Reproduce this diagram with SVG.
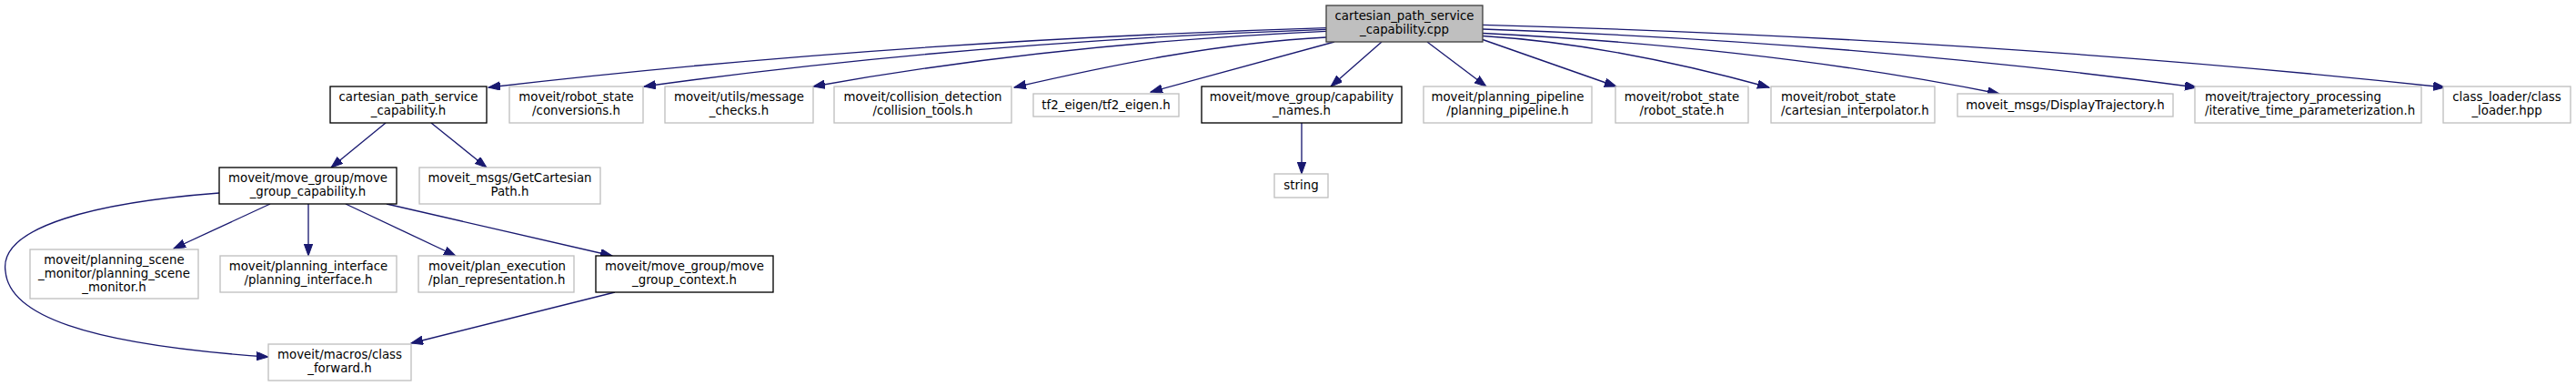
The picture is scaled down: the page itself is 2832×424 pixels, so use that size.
<svg xmlns="http://www.w3.org/2000/svg" width="2832" height="424" viewBox="0 0 2832 424">
<style>
text{font-family:"DejaVu Sans","Liberation Sans",sans-serif;font-size:13.33px;fill:#000}
.c{text-anchor:middle}
.l{text-anchor:start}
rect{fill:#fff;stroke-width:1.33}
.g rect{stroke:#bfbfbf}
.b rect{stroke:#000}
.r rect{fill:#bfbfbf;stroke:#404040}
#edges path{fill:none;stroke:#191970;stroke-width:1.33;marker-end:url(#arr)}
</style>
<defs>
<marker id="arr" markerUnits="userSpaceOnUse" markerWidth="14" markerHeight="10" refX="13" refY="4.7" orient="auto" viewBox="0 0 14 10">
<path d="M0,0 L13,4.7 L0,9.4 z" fill="#191970" stroke="#191970" stroke-width="1"/>
</marker>
</defs>
<rect x="0" y="0" width="2832" height="424" style="fill:#fff;stroke:none"/>
<g id="edges">
<path d="M1458,30.7 C1152,40 846,60 537,96"/>
<path d="M1458,32.3 C1209,41 960,60 708,95"/>
<path d="M1458,34.3 C1270,43 1083,61 894,95"/>
<path d="M1458,41 C1343,47 1228,70 1115,96"/>
<path d="M1467,46 L1265,101"/>
<path d="M1519,46 L1463,95"/>
<path d="M1569,46 L1634,95"/>
<path d="M1630,43.5 L1777,95"/>
<path d="M1630,39.5 C1736,46 1843,68 1945,96"/>
<path d="M1630,36.5 C1819,46 2009,65 2198,103"/>
<path d="M1630,32 C1892,41 2153,61 2415,96"/>
<path d="M1630,27.3 C1983,37 2335,58 2688,96"/>
<path d="M424,135 L364,184"/>
<path d="M474,135 L535,184"/>
<path d="M297,224 L191,273"/>
<path d="M339,224 L339,281"/>
<path d="M380,224 L501,281"/>
<path d="M425,224 L673,281"/>
<path d="M241,212 C110,222 -2,248 6,298 C10,345 90,378 295,392"/>
<path d="M676,321 L452,377"/>
<path d="M1431,135 L1431,191"/>
</g>
<g id="root" class="r"><rect x="1458" y="6" width="172" height="40"/><text class="c" x="1544" y="22.2">cartesian_path_service</text><text class="c" x="1544" y="37.2">_capability.cpp</text></g>
<g id="n_cpsc_h" class="b"><rect x="363" y="95" width="172" height="40"/><text class="c" x="449" y="111.2">cartesian_path_service</text><text class="c" x="449" y="126.2">_capability.h</text></g>
<g id="n_conversions" class="g"><rect x="560" y="95" width="147" height="40"/><text class="c" x="633.5" y="111.2">moveit/robot_state</text><text class="c" x="633.5" y="126.2">/conversions.h</text></g>
<g id="n_message_checks" class="g"><rect x="731" y="95" width="163" height="40"/><text class="c" x="812.5" y="111.2">moveit/utils/message</text><text class="c" x="812.5" y="126.2">_checks.h</text></g>
<g id="n_collision_tools" class="g"><rect x="917" y="95" width="195" height="40"/><text class="c" x="1014.5" y="111.2">moveit/collision_detection</text><text class="c" x="1014.5" y="126.2">/collision_tools.h</text></g>
<g id="n_tf2_eigen" class="g"><rect x="1136" y="103" width="160" height="25"/><text class="c" x="1216" y="119.5">tf2_eigen/tf2_eigen.h</text></g>
<g id="n_capability_names" class="b"><rect x="1321" y="95" width="220" height="40"/><text class="c" x="1431" y="111.2">moveit/move_group/capability</text><text class="c" x="1431" y="126.2">_names.h</text></g>
<g id="n_planning_pipeline" class="g"><rect x="1565" y="95" width="185" height="40"/><text class="c" x="1657.5" y="111.2">moveit/planning_pipeline</text><text class="c" x="1657.5" y="126.2">/planning_pipeline.h</text></g>
<g id="n_robot_state" class="g"><rect x="1776" y="95" width="146" height="40"/><text class="c" x="1849" y="111.2">moveit/robot_state</text><text class="c" x="1849" y="126.2">/robot_state.h</text></g>
<g id="n_cartesian_interpolator" class="g"><rect x="1947" y="95" width="180" height="40"/><text class="l" x="1958" y="111.2">moveit/robot_state</text><text class="l" x="1958" y="126.2">/cartesian_interpolator.h</text></g>
<g id="n_display_trajectory" class="g"><rect x="2152" y="103" width="237" height="25"/><text class="c" x="2270.5" y="119.5">moveit_msgs/DisplayTrajectory.h</text></g>
<g id="n_iterative" class="g"><rect x="2413" y="95" width="249" height="40"/><text class="l" x="2424" y="111.2">moveit/trajectory_processing</text><text class="l" x="2424" y="126.2">/iterative_time_parameterization.h</text></g>
<g id="n_class_loader" class="g"><rect x="2686" y="95" width="140" height="40"/><text class="c" x="2756" y="111.2">class_loader/class</text><text class="c" x="2756" y="126.2">_loader.hpp</text></g>
<g id="n_move_group_capability" class="b"><rect x="241" y="184" width="195" height="40"/><text class="c" x="338.5" y="200.2">moveit/move_group/move</text><text class="c" x="338.5" y="215.2">_group_capability.h</text></g>
<g id="n_get_cartesian_path" class="g"><rect x="461" y="184" width="199" height="40"/><text class="c" x="560.5" y="200.2">moveit_msgs/GetCartesian</text><text class="c" x="560.5" y="215.2">Path.h</text></g>
<g id="n_string" class="g"><rect x="1401" y="191" width="59" height="26"/><text class="c" x="1430.5" y="207.5">string</text></g>
<g id="n_planning_scene_monitor" class="g"><rect x="33" y="274" width="185" height="54"/><text class="c" x="125.5" y="290">moveit/planning_scene</text><text class="c" x="125.5" y="305">_monitor/planning_scene</text><text class="c" x="125.5" y="320">_monitor.h</text></g>
<g id="n_planning_interface" class="g"><rect x="242" y="281" width="194" height="40"/><text class="c" x="339" y="297.2">moveit/planning_interface</text><text class="c" x="339" y="312.2">/planning_interface.h</text></g>
<g id="n_plan_representation" class="g"><rect x="460" y="281" width="171" height="40"/><text class="l" x="471" y="297.2">moveit/plan_execution</text><text class="l" x="471" y="312.2">/plan_representation.h</text></g>
<g id="n_move_group_context" class="b"><rect x="655" y="281" width="195" height="40"/><text class="c" x="752.5" y="297.2">moveit/move_group/move</text><text class="c" x="752.5" y="312.2">_group_context.h</text></g>
<g id="n_class_forward" class="g"><rect x="295" y="378" width="157" height="40"/><text class="c" x="373.5" y="394.2">moveit/macros/class</text><text class="c" x="373.5" y="409.2">_forward.h</text></g>
</svg>
